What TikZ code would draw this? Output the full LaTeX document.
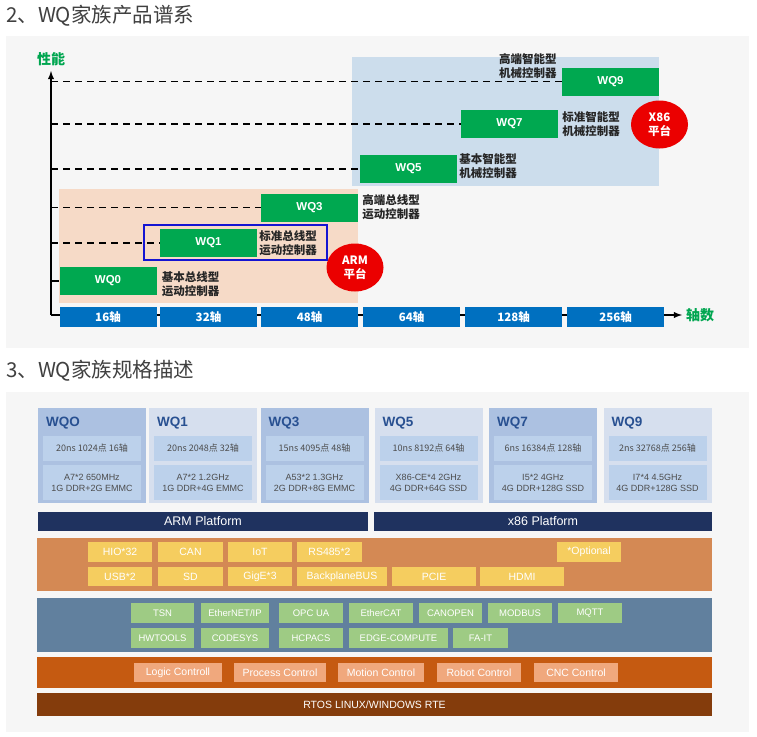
\documentclass[tikz,border=0pt]{standalone}
\usepackage{fontspec}
\setmainfont{Liberation Sans}
\newfontfamily\cjk{Noto Sans CJK SC}
\usepackage{tikz}
\usetikzlibrary{positioning,shapes.geometric}
\definecolor{panelgray}{RGB}{246,246,246}
\definecolor{titlegray}{RGB}{64,64,64}
\definecolor{axisgreen}{RGB}{0,166,80}
\definecolor{boxgreen}{RGB}{0,168,80}
\definecolor{axisblue}{RGB}{0,112,192}
\definecolor{armpeach}{RGB}{246,218,199}
\definecolor{x86blue}{RGB}{204,221,236}
\definecolor{outlineblue}{RGB}{20,20,210}
\definecolor{platred}{RGB}{235,0,0}
\definecolor{cardA}{RGB}{172,193,225}
\definecolor{cardB}{RGB}{214,223,238}
\definecolor{cellfill}{RGB}{188,209,235}
\definecolor{cardtitle}{RGB}{40,80,145}
\definecolor{navy}{RGB}{31,50,95}
\definecolor{ioorange}{RGB}{212,137,84}
\definecolor{ioyellow}{RGB}{245,205,95}
\definecolor{protoblue}{RGB}{97,128,158}
\definecolor{protogreen}{RGB}{158,203,132}
\definecolor{ctrlorange}{RGB}{197,90,17}
\definecolor{ctrlpeach}{RGB}{240,168,125}
\definecolor{rtebrown}{RGB}{132,60,12}

\begin{document}
\begin{tikzpicture}[x=1pt,y=-1pt,
  heading/.style={anchor=west,inner sep=0pt,text=titlegray,font=\cjk\fontsize{20.5}{21}\selectfont},
  axislabel/.style={text=axisgreen,font=\cjk\bfseries\fontsize{14}{14}\selectfont},
  axisbox/.style={fill=axisblue,text=white,font=\cjk\bfseries\fontsize{11.5}{13}\selectfont,minimum width=97pt,minimum height=20pt,inner sep=0pt},
  prodbox/.style={fill=boxgreen,text=white,font=\bfseries\fontsize{11.5}{13}\selectfont,minimum width=97pt,minimum height=28pt,inner sep=0pt},
  ctrllabel/.style={align=left,inner sep=2pt,text=black!85,font=\cjk\bfseries\fontsize{11.5}{14}\selectfont},
  guide/.style={dash pattern=on 7pt off 5pt,line width=1.8pt},
  platform/.style={ellipse,fill=platred,text=white,minimum width=57pt,minimum height=48pt,inner sep=0pt,align=center,font=\cjk\bfseries\fontsize{11.5}{14}\selectfont},
  card/.style={minimum width=108pt,minimum height=95pt,inner sep=0pt},
  cardhead/.style={inner sep=0pt,text=cardtitle,font=\bfseries\fontsize{13.5}{14}\selectfont},
  cell/.style={fill=cellfill,minimum width=98pt,inner sep=0pt,align=center,text=black!70,font=\fontsize{9}{11}\selectfont},
  platbar/.style={fill=navy,text=white,minimum height=19pt,inner sep=0pt,font=\fontsize{12.5}{13}\selectfont},
  iobox/.style={fill=ioyellow,text=white,inner sep=0pt,font=\fontsize{10.5}{12}\selectfont},
  protobox/.style={fill=protogreen,text=white,minimum height=20pt,inner sep=0pt,font=\fontsize{9.5}{11}\selectfont},
  ctrlbox/.style={fill=ctrlpeach,text=white,minimum height=19pt,inner sep=0pt,font=\fontsize{10.5}{12}\selectfont}]
\useasboundingbox (0,0) rectangle (757,736);
\fill[white] (0,0) rectangle (757,736);

\node[heading] (maptitle) at (6,16) {2、WQ家族产品谱系};
\fill[panelgray] (6,36) rectangle (749,348);
\fill[x86blue] (352,57) rectangle (659,186);
\fill[armpeach] (59,189) rectangle (358,303);

\coordinate (origin) at (51,315);
\draw[-latex,line width=1.8pt] (origin) -- (682,315) node (xaxis) [right,axislabel] {轴数};
\draw[-latex,line width=1.8pt] (origin) -- (51,71) node (yaxis) [above=1pt,axislabel] {性能};
\foreach \cx/\xtext in {108/16,208.5/32,309.5/48,411.5/64,513.5/128,615.5/256}
  \node[axisbox] (ax\xtext) at (\cx,317) {\xtext{}轴};

\node[prodbox] (wq0) at (108,281) {WQ0};
\node[prodbox] (wq1) at (208.5,243) {WQ1};
\node[prodbox] (wq3) at (309.5,207.5) {WQ3};
\node[prodbox] (wq5) at (408.5,169) {WQ5};
\node[prodbox] (wq7) at (509.5,124) {WQ7};
\node[prodbox] (wq9) at (610.5,81.5) {WQ9};
\foreach \p in {wq1,wq3,wq5,wq7,wq9}
  \draw[guide] (origin |- \p.west) -- (\p.west);
\draw[line width=1.8pt] (origin |- wq0.west) -- (wq0.west);

\node[ctrllabel,right=3pt of wq0,yshift=-3pt] (lab0) {基本总线型\\运动控制器};
\node[ctrllabel,right=0pt of wq1] (lab1) {标准总线型\\运动控制器};
\node[ctrllabel,right=2pt of wq3] (lab3) {高端总线型\\运动控制器};
\node[ctrllabel,right=0pt of wq5,yshift=2.5pt] (lab5) {基本智能型\\机械控制器};
\node[ctrllabel,right=2pt of wq7] (lab7) {标准智能型\\机械控制器};
\node[ctrllabel,left=3pt of wq9,yshift=15pt] (lab9) {高端智能型\\机械控制器};
\draw[outlineblue,line width=1.5pt] (144,225) rectangle (327,260);
\node[platform] (armplat) at (355,267.5) {ARM\\平台};
\node[platform] (x86plat) at (659.5,124.5) {X86\\平台};

\node[heading] (spectitle) at (6,371) {3、WQ家族规格描述};
\fill[panelgray] (6,392) rectangle (749,732);
\foreach \cx/\n/\cfill/\speca/\specb/\specc in {
    92/WQO/cardA/{20ns 1024点 16轴}/{A7*2 650MHz}/{1G DDR+2G EMMC},
    203/WQ1/cardB/{20ns 2048点 32轴}/{A7*2 1.2GHz}/{1G DDR+4G EMMC},
    314.5/WQ3/cardA/{15ns 4095点 48轴}/{A53*2 1.3GHz}/{2G DDR+8G EMMC},
    428.5/WQ5/cardB/{10ns 8192点 64轴}/{X86-CE*4 2GHz}/{4G DDR+64G SSD},
    543/WQ7/cardA/{6ns 16384点 128轴}/{I5*2 4GHz}/{4G DDR+128G SSD},
    657.5/WQ9/cardB/{2ns 32768点 256轴}/{I7*4 4.5GHz}/{4G DDR+128G SSD}}
{
  \node[card,fill=\cfill] (card\n) at (\cx,455.5) {};
  \node[cardhead,anchor=west] (head\n) at (\cx-46,423) {\n};
  \node[cell,minimum height=25pt] (perf\n) at (\cx,448.5) {\cjk\speca};
  \node[cell,minimum height=35pt] (cpu\n) at (\cx,482.5) {\specb\\\specc};
}
\node[platbar,minimum width=330pt] (armbar) at (203,521) {ARM Platform};
\node[platbar,minimum width=338pt] (x86bar) at (543,521.5) {x86 Platform};

\fill[ioorange] (37,538) rectangle (712,591);
\foreach \cx/\cy/\w/\t [count=\i] in {120/552/64/HIO*32,190.5/552/65/CAN,260/552/64/IoT,
    329.5/552/65/RS485*2,589/552/64/*Optional,120/576.5/64/USB*2,190.5/576.5/65/SD,
    260/576.5/64/GigE*3,342/576.5/90/BackplaneBUS,434/576.5/84/PCIE,522/576.5/84/HDMI}
  \node[iobox,minimum width=\w pt,minimum height=19.5pt] (io\i) at (\cx,\cy) {\t};

\fill[protoblue] (37,598) rectangle (712,652);
\foreach \cx/\cy/\w/\t [count=\i] in {162.5/613/63/TSN,235/613/68/{EtherNET/IP},311/613/64/OPC UA,
    381/613/64/EtherCAT,450.5/613/63/CANOPEN,520/613/64/MODBUS,590/613/64/MQTT,
    162.5/638/63/HWTOOLS,235/638/68/CODESYS,311/638/64/HCPACS,398.5/638/99/EDGE-COMPUTE,480.5/638/55/FA-IT}
  \node[protobox,minimum width=\w pt] (proto\i) at (\cx,\cy) {\t};

\fill[ctrlorange] (37,657) rectangle (712,688);
\foreach \cx/\w/\t [count=\i] in {178/88/Logic Controll,280/92/Process Control,381/86/Motion Control,
    479/84/Robot Control,576/84/CNC Control}
  \node[ctrlbox,minimum width=\w pt] (ctrl\i) at (\cx,672.5) {\t};

\node[fill=rtebrown,text=white,minimum width=675pt,minimum height=23pt,inner sep=0pt,
  font=\fontsize{10.5}{12}\selectfont] (rte) at (374.5,704.5) {RTOS LINUX/WINDOWS RTE};
\end{tikzpicture}
\end{document}
